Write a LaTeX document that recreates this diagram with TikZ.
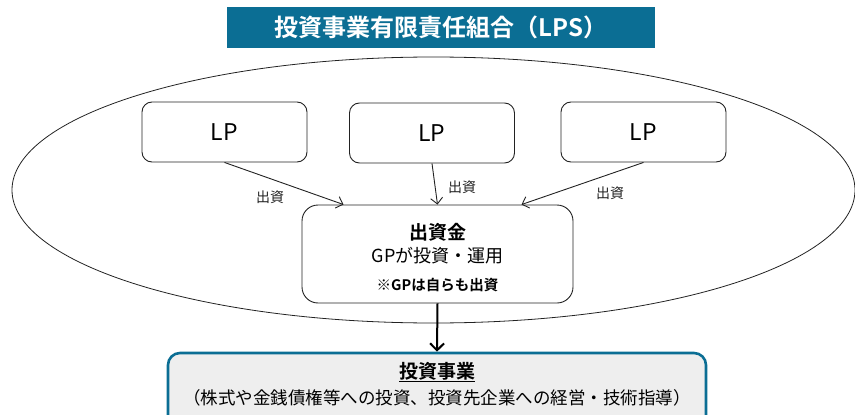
\documentclass[tikz,border=0pt]{standalone}
\usepackage{fontspec}
\setmainfont{Noto Sans CJK JP}[BoldFont={Noto Sans CJK JP Bold}]
\usetikzlibrary{arrows.meta}
\definecolor{teal1}{HTML}{0B6E94}
\definecolor{boxgray}{HTML}{EEEEEE}
\definecolor{linegray}{HTML}{222222}
\tikzset{
  lpbox/.style={draw=linegray, line width=0.9pt, rounded corners=10pt, fill=white,
    minimum width=165pt, minimum height=60pt, inner sep=0pt, font=\fontsize{23}{27}\selectfont},
  fundbox/.style={draw=linegray, line width=0.9pt, rounded corners=16pt, fill=white,
    minimum width=271pt, minimum height=98pt, inner sep=0pt},
  flow/.style={draw=linegray, line width=0.9pt, -{Straight Barb[length=6pt,width=12pt]}},
  flowlabel/.style={font=\fontsize{14}{16}\selectfont, text=linegray, inner sep=0pt},
  bigflow/.style={draw=black, line width=2pt, -{Straight Barb[length=7pt,width=14pt,line width=2pt]}},
}
\begin{document}
\begin{tikzpicture}[x=1pt,y=-1pt]
\useasboundingbox (0,0) rectangle (855,415);
% title
\node[fill=teal1, minimum width=428pt, minimum height=41pt, inner sep=0pt,
  text=white, font=\bfseries\fontsize{24}{28}\selectfont] (title) at (441,27.5) {投資事業有限責任組合（LPS）};
% enclosing ellipse
\draw[linegray, line width=0.8pt] (433.5,190) ellipse [x radius=421.5pt, y radius=133pt];
% LP boxes
\node[lpbox] (lp1) at (224.5,132) {LP};
\node[lpbox] (lp2) at (432,133) {LP};
\node[lpbox] (lp3) at (643.5,132) {LP};
% fund box
\node[fundbox] (fund) at (437.5,254) {};
\node[inner sep=0pt, font=\bfseries\fontsize{19}{21}\selectfont] (fundt1) at (437.5,232) {出資金};
\node[inner sep=0pt, font=\fontsize{18}{20}\selectfont] (fundt2) at (437.5,256) {GPが投資・運用};
\node[inner sep=0pt, font=\bfseries\fontsize{14.5}{16}\selectfont] (fundt3) at (437.5,285) {※GPは自らも出資};
% arrows
\draw[flow] (lp1.south) -- ([xshift=-94pt]fund.north);
\draw[flow] (lp2.south) -- (fund.north);
\draw[flow] (lp3.south) -- ([xshift=84pt]fund.north);
\node[flowlabel] (l1) at (270,197) {出資};
\node[flowlabel] (l2) at (462,187) {出資};
\node[flowlabel] (l3) at (610,193) {出資};
% business box
\node[draw=teal1, line width=2.6pt, fill=boxgray, rounded corners=12pt,
  minimum width=538pt, minimum height=80pt, inner sep=0pt] (biz) at (437,393) {};
\node[inner sep=0pt, font=\bfseries\fontsize{19}{21}\selectfont] (bizt1) at (437,372) {\underline{投資事業}};
\node[inner sep=0pt, font=\fontsize{17.5}{20}\selectfont] (bizt2) at (437,398) {（株式や金銭債権等への投資、投資先企業への経営・技術指導）};
\draw[bigflow] (fund.south) -- (biz.north);
\end{tikzpicture}
\end{document}
